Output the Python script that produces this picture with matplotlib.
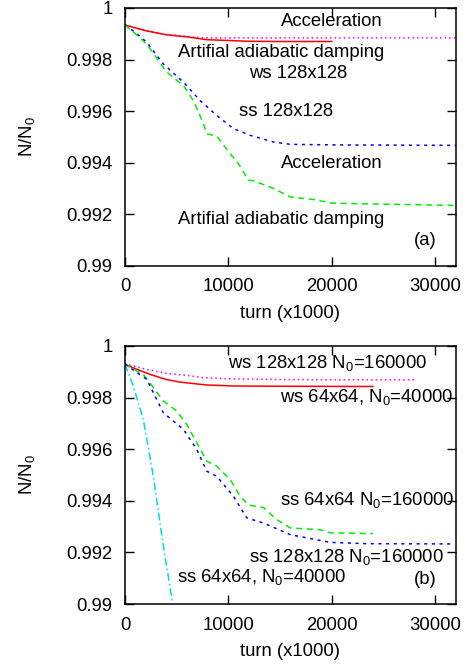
import matplotlib
matplotlib.use("Agg")
import matplotlib.pyplot as plt

plt.rcParams['font.family'] = ['Liberation Sans', 'DejaVu Sans']
plt.rcParams['mathtext.fontset'] = 'custom'
plt.rcParams['mathtext.rm'] = 'Liberation Sans'
plt.rcParams['mathtext.it'] = 'Liberation Sans'

FS = 13.3

# ---- panel (a) ----
a_ws_acc_x = [0, 2000, 4000, 6000, 7300, 9000, 32000]
a_ws_acc_y = [0.99934, 0.99912, 0.99897, 0.99890, 0.99885, 0.99884, 0.99884]
a_ws_add_x = [0, 2000, 4000, 6000, 7900, 10000, 11800, 15000, 20000]
a_ws_add_y = [0.99934, 0.99912, 0.99896, 0.99888, 0.99877, 0.99874, 0.99871, 0.99870, 0.99870]
a_ss_acc_x = [0, 1000, 2100, 3700, 5650, 7260, 8870, 10480, 12100, 14350, 15970, 20000, 32000]
a_ss_acc_y = [0.99934, 0.99905, 0.99867, 0.99783, 0.99712, 0.99641, 0.99583, 0.99532, 0.99506,
              0.99480, 0.99471, 0.99469, 0.99467]
a_ss_add_x = [0, 1000, 2100, 4030, 5650, 6610, 7580, 7900, 8870, 10160, 10970, 11935, 12420,
              14350, 15970, 18230, 20000, 23390, 32000]
a_ss_add_y = [0.99934, 0.99900, 0.99860, 0.99751, 0.99699, 0.99641, 0.99551, 0.99512, 0.99503,
              0.99435, 0.99396, 0.99332, 0.99330, 0.99300, 0.99267, 0.99257, 0.99243, 0.99240,
              0.99234]

# ---- panel (b) ----
b_ws128_x = [0, 2000, 4030, 6000, 7580, 10000, 15000, 20000, 28060]
b_ws128_y = [0.99931, 0.99910, 0.99894, 0.99886, 0.99877, 0.99873, 0.99870, 0.99869, 0.99869]
b_ws64_x = [0, 1000, 2420, 4000, 5320, 7900, 10480, 15000, 23970]
b_ws64_y = [0.99929, 0.99912, 0.99890, 0.99870, 0.99860, 0.99849, 0.99845, 0.99844, 0.99843]
b_ss64_160_x = [0, 1770, 3710, 5000, 5970, 6940, 7900, 8870, 10160, 11130, 11940, 13390,
                14680, 15970, 18870, 19840, 23970]
b_ss64_160_y = [0.99929, 0.99890, 0.99787, 0.99748, 0.99696, 0.99625, 0.99554, 0.99534,
                0.99483, 0.99418, 0.99384, 0.99374, 0.99327, 0.99295, 0.99288, 0.99276, 0.99273]
b_ss128_x = [0, 2100, 3710, 5650, 6940, 7900, 8870, 10480, 11770, 13390, 15970, 19840, 23390, 31670]
b_ss128_y = [0.99929, 0.99871, 0.99741, 0.99677, 0.99599, 0.99515, 0.99495, 0.99418, 0.99334,
             0.99314, 0.99269, 0.99239, 0.99234, 0.99233]
b_ss64_40_x = [0, 800, 1770, 2740, 3710, 4580]
b_ss64_40_y = [0.99929, 0.99845, 0.99715, 0.99495, 0.99224, 0.99010]

xticks = [0, 10000, 20000, 30000]
xtick_labels = ['0', '10000', '20000', '30000']
yticks = [0.990, 0.992, 0.994, 0.996, 0.998, 1.0]
ytick_labels = ['0.99', '0.992', '0.994', '0.996', '0.998', '1']

fig = plt.figure(figsize=(4.71, 6.66), dpi=100)
ax_a = fig.add_axes([0.2654, 0.601, 0.7027, 0.387])
ax_b = fig.add_axes([0.2654, 0.093, 0.7027, 0.3875])


def style(ax):
    ax.set_xlim(0, 32000)
    ax.set_ylim(0.99, 1.0)
    ax.set_xticks(xticks)
    ax.set_xticklabels(xtick_labels)
    ax.set_yticks(yticks)
    ax.set_yticklabels(ytick_labels)
    ax.tick_params(direction='in', length=6.5, width=1, top=True, right=True,
                   labelsize=FS)
    ax.tick_params(axis='x', pad=9)
    ax.tick_params(axis='y', pad=9)
    for s in ax.spines.values():
        s.set_linewidth(1.1)
    ax.set_xlabel('turn (x1000)', fontsize=FS, labelpad=7)
    ax.set_ylabel('N/N$_0$', fontsize=FS, labelpad=21)


lw = 1.1
ax_a.plot(a_ws_acc_x, a_ws_acc_y, color='#ff00ff', lw=lw, ls=(0, (1, 2)))
ax_a.plot(a_ws_add_x, a_ws_add_y, color='#ff0000', lw=lw, ls='-')
ax_a.plot(a_ss_acc_x, a_ss_acc_y, color='#0000ff', lw=lw, ls=(0, (2, 3)))
ax_a.plot(a_ss_add_x, a_ss_add_y, color='#00ee00', lw=lw, ls=(0, (4, 3)))
style(ax_a)
ax_a.text(20000, 0.99948, 'Acceleration', ha='center', va='center', fontsize=FS)
ax_a.text(15060, 0.99826, 'Artifial adiabatic damping', ha='center', va='center', fontsize=FS)
ax_a.text(16770, 0.99747, 'ws 128x128', ha='center', va='center', fontsize=FS)
ax_a.text(15580, 0.99599, 'ss 128x128', ha='center', va='center', fontsize=FS)
ax_a.text(20000, 0.99396, 'Acceleration', ha='center', va='center', fontsize=FS)
ax_a.text(15060, 0.99181, 'Artifial adiabatic damping', ha='center', va='center', fontsize=FS)
ax_a.text(29030, 0.99097, '(a)', ha='center', va='center', fontsize=FS)

ax_b.plot(b_ws128_x, b_ws128_y, color='#ff00ff', lw=lw, ls=(0, (1, 2)))
ax_b.plot(b_ws64_x, b_ws64_y, color='#ff0000', lw=lw, ls='-')
ax_b.plot(b_ss64_160_x, b_ss64_160_y, color='#00ee00', lw=lw, ls=(0, (4, 3)))
ax_b.plot(b_ss128_x, b_ss128_y, color='#0000ff', lw=lw, ls=(0, (2, 3)))
ax_b.plot(b_ss64_40_x, b_ss64_40_y, color='#00dddd', lw=lw, ls=(0, (5, 2, 1, 2)))
style(ax_b)
ax_b.text(10000, 0.99935, 'ws 128x128 N$_0$=160000', ha='left', va='center', fontsize=FS)
ax_b.text(15000, 0.99803, 'ws 64x64, N$_0$=40000', ha='left', va='center', fontsize=FS)
ax_b.text(15000, 0.99402, 'ss 64x64 N$_0$=160000', ha='left', va='center', fontsize=FS)
ax_b.text(12030, 0.99182, 'ss 128x128 N$_0$=160000', ha='left', va='center', fontsize=FS)
ax_b.text(5000, 0.99103, 'ss 64x64, N$_0$=40000', ha='left', va='center', fontsize=FS)
ax_b.text(29030, 0.99094, '(b)', ha='center', va='center', fontsize=FS)

fig.savefig('out.png', dpi=100)
